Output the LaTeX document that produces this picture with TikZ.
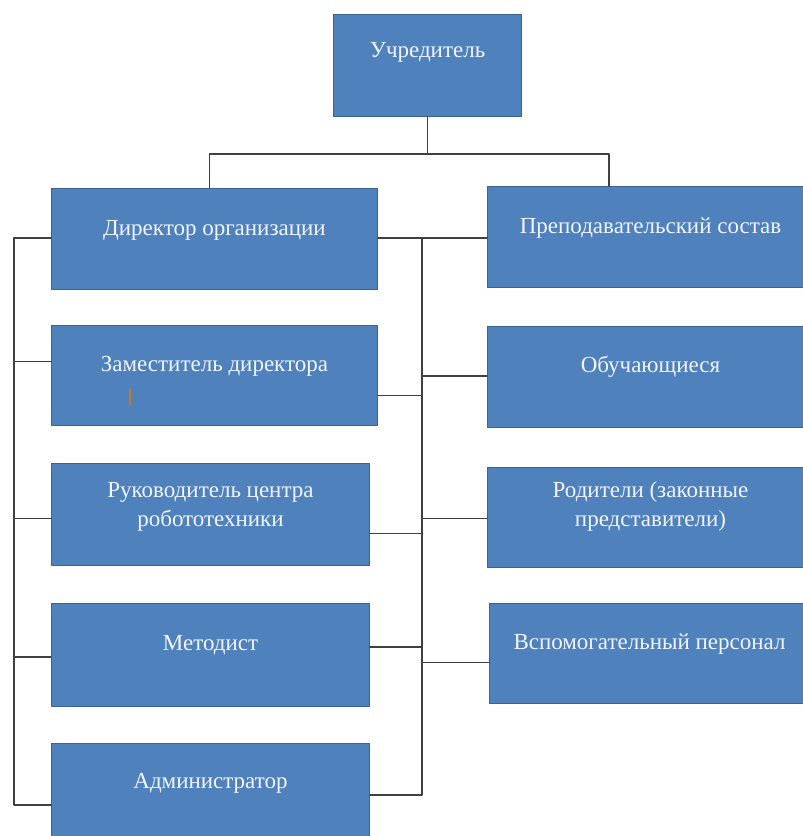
\documentclass[tikz,border=0pt]{standalone}
\usepackage{fontspec}
\setmainfont{Liberation Serif}
\usepackage{tikz}
\usetikzlibrary{positioning, calc}
\definecolor{boxblue}{HTML}{4F81BD}
\definecolor{boxedge}{HTML}{3A6391}
\definecolor{linkgray}{HTML}{404040}
\definecolor{cursor}{HTML}{C8782A}
\tikzset{
  orgbox/.style={draw=boxedge, fill=boxblue, line width=1pt, anchor=north west, inner sep=0pt},
  orgtext/.style={text=white!92!boxblue, font=\fontsize{23}{29}\selectfont, align=center},
  link/.style={draw=linkgray, line width=1.4pt}
}

\begin{document}
\begin{tikzpicture}[x=1pt, y=-1pt, line cap=round, line join=round]

% --- page frame (pixel coordinates, y downwards) ---
\useasboundingbox (0,0) rectangle (803,836);

% --- bus positions ---
\def\xLeft{14}
\def\xMid{422}
\def\yTop{154}

% ------------------ boxes ------------------
\node[orgbox, minimum width=188, minimum height=102] (uch) at (333,14) {};

% left column
\node[orgbox, minimum width=326, minimum height=101] (dir) at (51,188) {};
\node[orgbox, minimum width=326, minimum height=100] (zam) at (51,325) {};
\node[orgbox, minimum width=318, minimum height=102] (ruk) at (51,463) {};
\node[orgbox, minimum width=318, minimum height=103] (met) at (51,603) {};
\node[orgbox, minimum width=318, minimum height=102] (adm) at (51,743) {};

% right column (runs past the page edge)
\node[orgbox, minimum width=330, minimum height=101] (prep) at (487,186) {};
\node[orgbox, minimum width=330, minimum height=101] (obu) at (487,326) {};
\node[orgbox, minimum width=330, minimum height=100] (rod) at (487,467) {};
\node[orgbox, minimum width=328, minimum height=100] (vsp) at (489,603) {};

% ------------------ texts ------------------
\node[orgtext] (uchtext)  at ([yshift=13]uch.center)  {Учредитель};
\node[orgtext] (dirtext)  at ([yshift=9]dir.center)   {Директор организации};
\node[orgtext] (zamtext)  at ([yshift=9]zam.center)   {Заместитель директора};
\node[orgtext] (ruktext)  at ([yshift=8]ruk.center)   {Руководитель центра\\робототехники};
\node[orgtext] (mettext)  at ([yshift=10]met.center)  {Методист};
\node[orgtext] (admtext)  at ([yshift=11]adm.center)  {Администратор};
\node[orgtext] (preptext) at ([xshift=-2, yshift=9]prep.center) {Преподавательский состав};
\node[orgtext] (obutext)  at ([xshift=-2, yshift=10]obu.center) {Обучающиеся};
\node[orgtext] (rodtext)  at ([xshift=-2, yshift=11]rod.center) {Родители (законные\\представители)};
\node[orgtext] (vsptext)  at ([xshift=-4, yshift=9]vsp.center)  {Вспомогательный персонал};

% small cursor mark inside the deputy box
\draw[cursor, line width=1.2pt] (130,389) -- (130,405);

% ------------------ connectors ------------------
% top level
\coordinate (top) at (uch.south |- 0,\yTop);
\draw[link] (uch.south) -- (top);
\draw[link] ([xshift=-5]dir.north) |- (top) -| ([xshift=122]prep.north west);

% left bus
\coordinate (lb) at (\xLeft,805);
\draw[link] ([yshift=1]dir.west) -| (lb) -- (lb -| adm.west);
\draw[link] ([yshift=14]zam.west) -- ([yshift=14]zam.west -| lb);
\draw[link] ([yshift=-4]ruk.west) -- ([yshift=-4]ruk.west -| lb);
\draw[link] ([yshift=-2]met.west) -- ([yshift=-2]met.west -| lb);

% middle bus
\coordinate (mb) at (\xMid,795);
\draw[link] ([yshift=1]dir.east) -- ([yshift=1]dir.east -| prep.west);
\draw[link] ([yshift=1]dir.east -| mb) -- (mb) -- (mb -| adm.east);
\draw[link] ([yshift=-20]zam.east) -- ([yshift=-20]zam.east -| mb);
\draw[link] ([yshift=-19]ruk.east) -- ([yshift=-19]ruk.east -| mb);
\draw[link] ([yshift=8]met.east) -- ([yshift=8]met.east -| mb);
\draw[link] ([yshift=1]obu.west) -- ([yshift=1]obu.west -| mb);
\draw[link] ([yshift=-1]rod.west) -- ([yshift=-1]rod.west -| mb);
\draw[link] ([yshift=-9]vsp.west) -- ([yshift=-9]vsp.west -| mb);

\end{tikzpicture}
\end{document}
